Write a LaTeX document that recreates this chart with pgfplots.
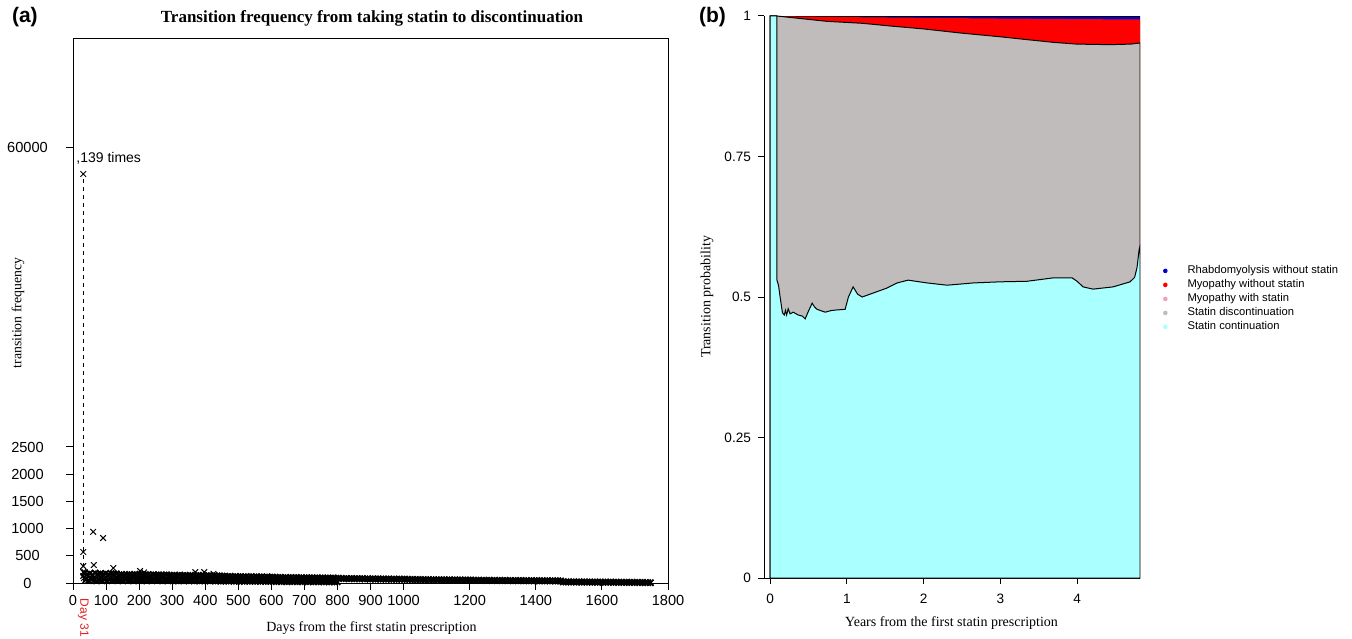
\documentclass[border=0pt]{standalone}
\usepackage{fontspec}
\setmainfont{Liberation Sans}
\newfontfamily\serif{Liberation Serif}
\usepackage{pgfplots}
\pgfplotsset{compat=1.18}
\definecolor{cyanA}{RGB}{170,255,255}
\definecolor{greyA}{RGB}{192,188,188}
\definecolor{redA}{RGB}{255,0,0}
\definecolor{blueA}{RGB}{0,0,215}
\definecolor{pinkA}{RGB}{245,160,185}
\definecolor{dayred}{RGB}{230,30,30}
\pgfplotsset{dotlegend/.style={legend image code/.code={\path[draw=none,fill=none] (0pt,0pt) -- (14.5pt,0pt); \fill[##1, draw=none] (4pt,0pt) circle[radius=1.15pt];}}}
\begin{document}
\begin{tikzpicture}[x=1pt,y=1pt]
\useasboundingbox (0,0) rectangle (676,319);
% ---------------- panel (a)
\begin{axis}[
  at={(36.5pt,27.5pt)}, anchor=south west, scale only axis,
  width=297.5pt, height=272.5pt,
  xmin=0, xmax=1800, ymin=0, ymax=71550,
  y coord trafo/.code={\begingroup\pgfkeys{/pgf/fpu=true,/pgf/fpu/output format=fixed}\pgfmathparse{(#1>2500)?(2500+(#1-28220)*0.1735):(#1)}\pgfmathsmuggle\pgfmathresult\endgroup},
  scaled y ticks=false, scaled x ticks=false,
  xtick={0,100,...,1000,1200,1400,1600,1800},
  ytick={0,500,1000,1500,2000,2500,60000},
  yticklabels={0,500,1000,1500,2000,2500,60000},
  tick pos=left, tick align=outside, major tick length=3.5pt,
  tick style={black, line width=0.5pt},
  axis line style={line width=0.5pt},
  ticklabel style={font=\fontsize{7.3}{8}\selectfont},
  yticklabel style={anchor=center, xshift=-19.25pt},
  xticklabel style={yshift=1pt},
  /pgf/number format/assume math mode=true,
  /pgf/number format/1000 sep={},
]
\addplot[black, dash pattern=on 2pt off 2pt, line width=0.5pt] coordinates {(31,0) (31,57139)};
\addplot[only marks, mark=x, mark size=2pt, black, line width=0.5pt] coordinates {(31,57139)(31,570)(31,310)(31,200)(31,130)(33,90)(61,940)(63,330)(91,827)(122,275)(203,220)(215,195)(370,200)(397,200)(425,170)};
\addplot[only marks, mark=x, mark size=2.2pt, black, line width=0.9pt] coordinates {
(35,190)(43,160)(51,175)(59,150)(67,185)(75,165)(83,170)(91,160)(99,178)(107,155)(115,172)(123,165)(131,168)
(139,150)(147,158)(155,145)(163,152)(171,160)(179,148)(187,155)(195,150)(203,162)(211,158)(219,150)(227,154)(235,146)(243,152)(251,143)(259,150)(267,147)(275,141)(283,149)(291,144)(299,140)
(307,142)(315,138)(323,145)(331,136)(339,140)(347,134)(355,139)(363,137)(371,133)(379,141)(387,135)(395,138)(403,132)(411,136)(419,130)(427,134)(435,129)(443,131)(451,127)
(459,124)(467,118)(475,121)(483,116)(491,120)(499,114)(507,118)(515,112)(523,116)(531,113)(539,117)(547,110)(555,114)(563,109)(571,112)(579,108)(587,111)(595,106)(603,109)
(611,104)(619,100)(627,103)(635,98)(643,101)(651,97)(659,100)(667,95)(675,99)(683,96)(691,98)(699,93)(707,97)(715,94)(723,96)(731,91)(739,94)(747,90)(755,93)(763,89)(771,92)(779,88)(787,90)(795,86)(803,89)
(811,84)(819,81)(827,83)(835,79)(843,82)(851,78)(859,80)(867,77)(875,79)(883,75)(891,78)(899,74)(907,77)(915,73)(923,76)(931,72)(939,74)(947,71)(955,73)(963,70)(971,72)(979,69)(987,71)(995,68)(1003,70)
(1011,66)(1019,64)(1027,65)(1035,62)(1043,64)(1051,61)(1059,63)(1067,60)(1075,62)(1083,59)(1091,61)(1099,58)(1107,60)(1115,57)(1123,59)(1131,56)(1139,58)(1147,55)(1155,57)(1163,54)(1171,56)(1179,53)(1187,55)(1195,52)(1203,54)
(1211,51)(1219,49)(1227,50)(1235,48)(1243,50)(1251,47)(1259,49)(1267,46)(1275,48)(1283,46)(1291,47)(1299,45)(1307,47)(1315,44)(1323,46)(1331,44)(1339,45)(1347,43)(1355,45)(1363,42)(1371,44)(1379,42)(1387,43)(1395,41)(1403,43)(1411,40)(1419,42)(1427,40)(1435,41)(1443,39)(1451,41)(1459,38)(1467,40)(1475,37)
(1483,22)(1491,20)(1499,21)(1507,19)(1515,21)(1523,18)(1531,20)(1539,18)(1547,19)(1555,17)(1563,19)(1571,16)(1579,18)(1587,16)(1595,17)(1603,15)(1611,16)(1619,14)(1627,16)(1635,13)(1643,15)(1651,13)(1659,14)(1667,12)(1675,13)(1683,11)(1691,12)(1699,10)(1707,11)(1715,9)(1723,10)(1731,8)(1739,7)(1747,5)
};
\addplot[only marks, mark=x, mark size=2.2pt, black, line width=0.9pt] coordinates {
(39,60)(47,45)(55,70)(63,50)(71,40)(79,55)(87,48)(95,62)(103,42)(111,58)(119,46)(127,52)(135,44)
(143,50)(151,42)(159,56)(167,45)(175,48)(183,40)(191,53)(199,46)(207,44)(215,51)(223,41)(231,49)(239,45)(247,52)(255,43)(263,47)(271,40)(279,50)(287,44)(295,46)(303,42)
(311,45)(319,40)(327,48)(335,42)(343,44)(351,38)(359,47)(367,41)(375,43)(383,39)(391,46)(399,40)(407,42)(415,37)(423,45)(431,39)(439,41)(447,36)(455,40)
(463,38)(471,34)(479,40)(487,35)(495,37)(503,32)(511,39)(519,34)(527,36)(535,31)(543,37)(551,33)(559,35)(567,30)(575,36)(583,32)(591,34)(599,30)
(607,30)(615,27)(623,31)(631,26)(639,29)(647,25)(655,30)(663,26)(671,28)(679,24)(687,29)(695,25)(703,27)(711,23)(719,28)(727,24)(735,26)(743,22)(751,27)(759,23)(767,25)(775,21)(783,24)(791,20)(799,22)
};
\end{axis}
% ---------------- panel (b)
\begin{axis}[
  at={(382pt,30pt)}, anchor=south west, scale only axis,
  width=188pt, height=281pt,
  xmin=-0.08, xmax=4.82, ymin=0, ymax=1,
  axis lines=left, axis line style={-, line width=0.5pt},
  xtick={0,1,2,3,4}, ytick={0,0.25,0.5,0.75,1},
  yticklabels={0,0.25,0.5,0.75,1},
  tick align=outside, major tick length=3pt,
  tick style={black, line width=0.5pt},
  ticklabel style={font=\fontsize{6.8}{7.5}\selectfont},
  xticklabel style={yshift=-1.5pt},
  /pgf/number format/assume math mode=true,
  legend cell align=left,
  legend style={at={(1.045,0.5587)}, anchor=north west, draw=none, fill=none,
    inner sep=0pt, row sep=0.5pt,
    nodes={inner sep=0.6pt, font=\fontsize{5.6}{6}\selectfont, text height=4pt, text depth=1.3pt}},
]
\addplot[draw=black, fill=blueA, line width=0.3pt, forget plot] coordinates {(0,1)(4.82,1)} \closedcycle;
\addplot[draw=none, fill=redA, forget plot] coordinates {(0,1)(0.087,0.9995)(1,0.998)(2,0.9967)(3,0.9955)(4,0.9945)(4.82,0.9938)} \closedcycle;
\addplot[draw=black, fill=greyA, line width=0.5pt, forget plot] coordinates {(0,1)(0.087,1)(0.5,0.994)(0.739,0.9905)(1.2,0.987)(1.607,0.9817)(2.0,0.977)(2.476,0.9698)(3.0,0.963)(3.344,0.958)(3.7,0.953)(3.996,0.950)(4.43,0.949)(4.70,0.950)(4.82,0.952)} \closedcycle;
\addplot[draw=black, fill=cyanA, line width=0.5pt, forget plot] coordinates {(0,1)(0.089,1)(0.089,0.53)(0.11,0.52)(0.13,0.50)(0.16,0.472)(0.185,0.468)(0.2,0.476)(0.215,0.468)(0.235,0.479)(0.26,0.470)(0.30,0.473)(0.365,0.468)(0.42,0.466)(0.456,0.461)(0.50,0.475)(0.547,0.489)(0.58,0.482)(0.612,0.478)(0.717,0.473)(0.80,0.476)(0.873,0.477)(0.977,0.478)(1.02,0.50)(1.081,0.518)(1.14,0.505)(1.199,0.500)(1.342,0.507)(1.524,0.516)(1.655,0.525)(1.798,0.530)(2.046,0.525)(2.306,0.521)(2.645,0.525)(2.997,0.527)(3.349,0.528)(3.687,0.534)(3.935,0.534)(4.00,0.528)(4.078,0.518)(4.208,0.514)(4.469,0.518)(4.691,0.527)(4.75,0.535)(4.782,0.553)(4.808,0.584)(4.82,0.59)} \closedcycle;
\addlegendimage{color=blueA, dotlegend}
\addlegendentry{Rhabdomyolysis without statin}
\addlegendimage{color=redA, dotlegend}
\addlegendentry{Myopathy without statin}
\addlegendimage{color=pinkA, dotlegend}
\addlegendentry{Myopathy with statin}
\addlegendimage{color=greyA, dotlegend}
\addlegendentry{Statin discontinuation}
\addlegendimage{color=cyanA, dotlegend}
\addlegendentry{Statin continuation}
\end{axis}
% ---------------- texts
\node[anchor=west, font=\bfseries\fontsize{10.5}{11}\selectfont] at (2.5,310.5) {(a)};
\node[font=\serif\bfseries\fontsize{8.5}{9}\selectfont] at (186,310) {Transition frequency from taking statin to discontinuation};
\node[rotate=90, font=\serif\fontsize{6.9}{7.5}\selectfont] at (9,162.5) {transition frequency};
\node[font=\serif\fontsize{7}{8}\selectfont] at (185.75,5) {Days from the first statin prescription};
\node[anchor=west, inner sep=0pt, font=\fontsize{7}{8}\selectfont] at (38,240) {,139 times};
\node[anchor=west, rotate=-90, inner sep=0pt, text=dayred, font=\fontsize{6}{7}\selectfont] at (41.6,19.8) {Day 31};
\node[anchor=west, font=\bfseries\fontsize{10.5}{11}\selectfont] at (346,310.5) {(b)};
\node[rotate=90, font=\serif\fontsize{7}{8}\selectfont] at (353.5,170.5) {Transition probability};
\node[font=\serif\fontsize{7}{8}\selectfont] at (475.75,7.5) {Years from the first statin prescription};
\end{tikzpicture}
\end{document}
